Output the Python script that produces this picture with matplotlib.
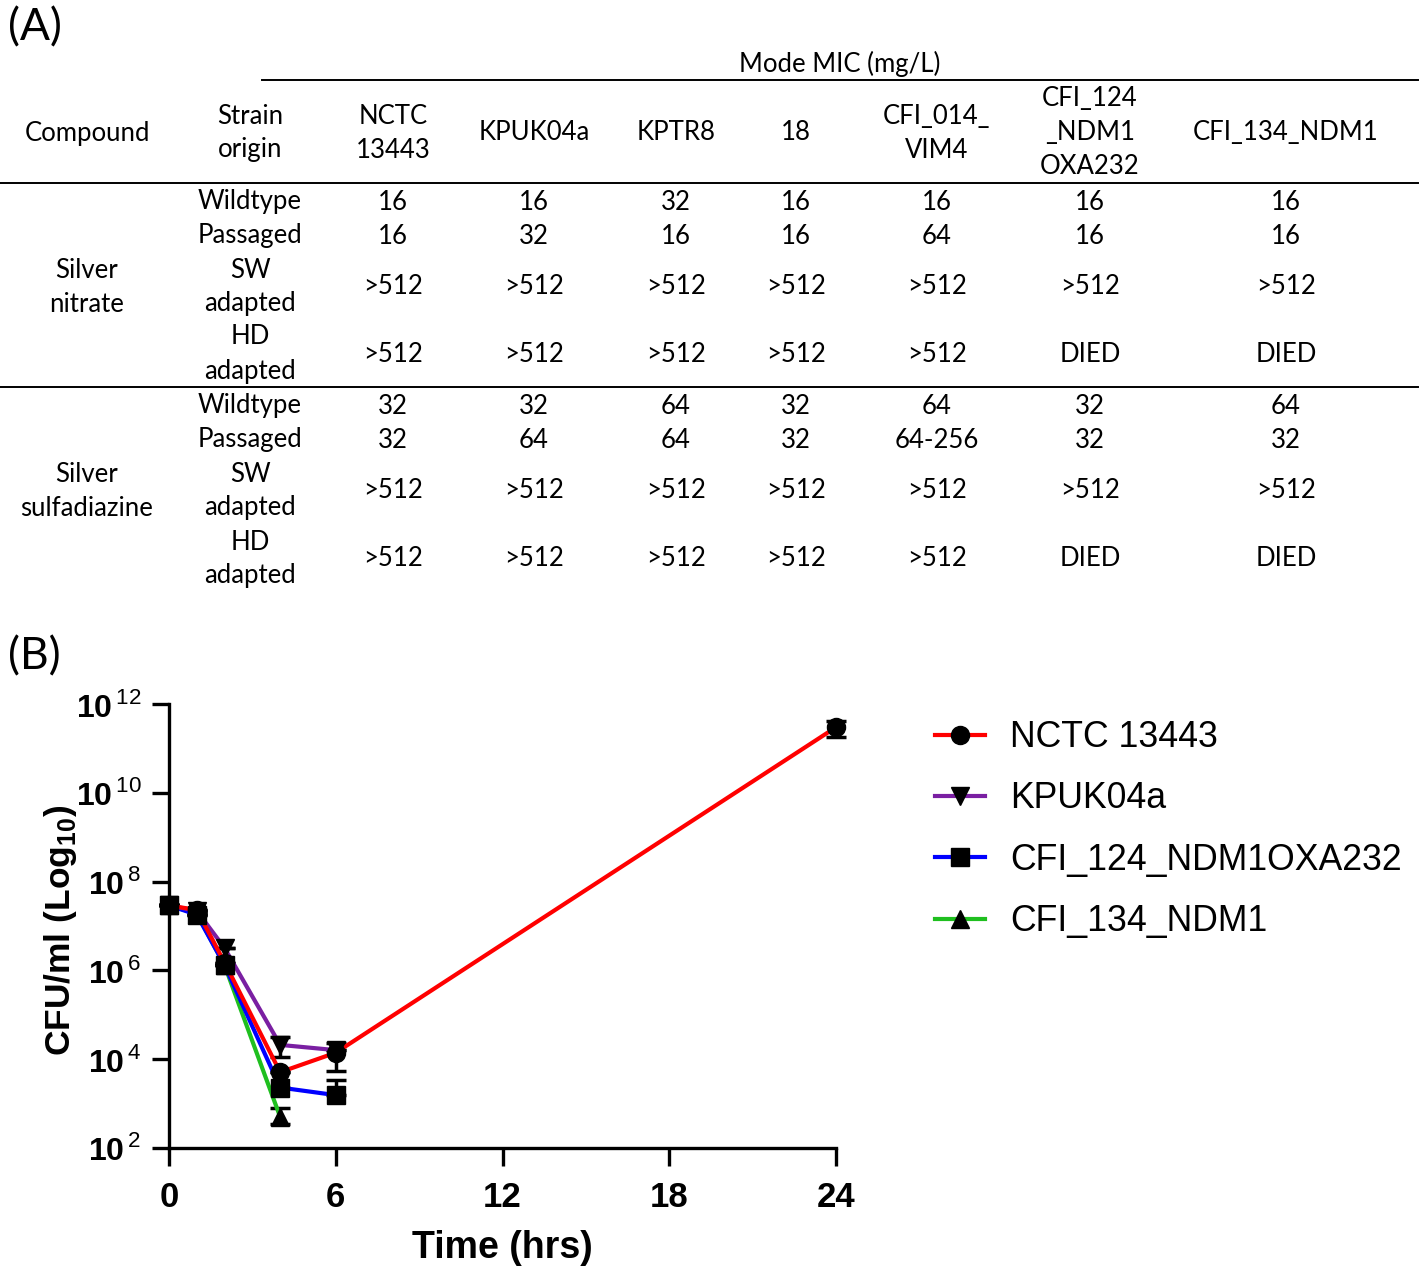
import numpy as np
import matplotlib
matplotlib.use("Agg")
import matplotlib.pyplot as plt
from matplotlib.ticker import NullLocator, FixedLocator, FixedFormatter
from matplotlib.lines import Line2D

W, H = 1424, 1268

# ---------------- table data (A) ----------------
strains = ["NCTC\n13443", "KPUK04a", "KPTR8", "18", "CFI_014_\nVIM4",
           "CFI_124\n_NDM1\nOXA232", "CFI_134_NDM1"]
compounds = ["Silver\nnitrate", "Silver\nsulfadiazine"]
origins = ["Wildtype", "Passaged", "SW\nadapted", "HD\nadapted"]

nitrate = [
    ["16", "16", "32", "16", "16", "16", "16"],
    ["16", "32", "16", "16", "64", "16", "16"],
    [">512"] * 7,
    [">512"] * 5 + ["DIED", "DIED"],
]
sulfadiazine = [
    ["32", "32", "64", "32", "64", "32", "64"],
    ["32", "64", "64", "32", "64-256", "32", "32"],
    [">512"] * 7,
    [">512"] * 5 + ["DIED", "DIED"],
]

# ---------------- time-kill data (B) ----------------
time = [0, 1, 2, 4, 6, 24]
nctc = [2.9e7, 2.3e7, 1.5e6, 5.1e3, 1.4e4, 3.0e11]
nctc_lo = [0, 0, 0, 0, 8.6e3, 1.2e11]
nctc_hi = [0, 0, 0, 0, 8.6e3, 1.2e11]

time_k = [0, 1, 2, 4, 6]
kpuk = [2.9e7, 2.2e7, 3.2e6, 2.1e4, 1.6e4]
kpuk_lo = [0, 0, 0, 1.0e4, 0]
kpuk_hi = [0, 0, 0, 1.0e4, 0]

cfi124 = [2.9e7, 1.8e7, 1.3e6, 2.3e3, 1.55e3]
cfi124_lo = [0, 0, 0, 0, 0]
cfi124_hi = [0, 0, 0, 0, 1.8e3]

time_c = [0, 1, 2, 4]
cfi134 = [2.9e7, 1.9e7, 1.3e6, 5.0e2]
cfi134_lo = [0, 0, 0, 1.5e2]
cfi134_hi = [0, 0, 0, 3.0e2]

labels = ["NCTC 13443", "KPUK04a", "CFI_124_NDM1OXA232", "CFI_134_NDM1"]

plt.rcParams["mathtext.fontset"] = "custom"
plt.rcParams["mathtext.rm"] = "Liberation Sans"
plt.rcParams["mathtext.bf"] = "Liberation Sans:bold"

fig = plt.figure(figsize=(W / 100, H / 100), dpi=100)

# overlay axes in pixel coordinates for the table
ov = fig.add_axes([0, 0, 1, 1])
ov.set_xlim(0, W)
ov.set_ylim(H, 0)
ov.axis("off")

tfont = dict(family="Lato", fontsize=18.5, ha="center", va="center")
step = 34


def cell(x, y, txt):
    lines = txt.split("\n")
    y0 = y - (len(lines) - 1) * step / 2
    for i, ln in enumerate(lines):
        ov.text(x, y0 + i * step, ln, **tfont)


ov.text(8, 28, "(A)", family="Lato", fontsize=32, ha="left", va="center")
ov.text(8, 657, "(B)", family="Lato", fontsize=32, ha="left", va="center")

ov.plot([262, 1418], [80, 80], color="black", lw=1.4)
ov.plot([0, 1418], [183, 183], color="black", lw=1.4)
ov.plot([0, 1418], [387, 387], color="black", lw=1.4)

cell(840, 64, "Mode MIC (mg/L)")
cell(87, 133, "Compound")
cell(250, 133, "Strain\norigin")
col_x = [393, 534, 676, 796, 937, 1090, 1286]
for cx, s in zip(col_x, strains):
    cell(cx, 133, s)

row_y = [[202, 236, 287, 354], [406, 440, 491, 559]]
for block, (comp, vals) in enumerate(zip(compounds, [nitrate, sulfadiazine])):
    ys = row_y[block]
    cell(87, ys[2], comp)
    for r, org in enumerate(origins):
        cell(250, ys[r], org)
        for cx, v in zip(col_x, vals[r]):
            cell(cx, ys[r], v)

# ---------------- chart ----------------
ax = fig.add_axes([169 / W, 1 - 1148 / H, (836 - 169) / W, (1148 - 704) / H])
ax.set_yscale("log")
ax.set_xlim(0, 24)
ax.set_ylim(1e2, 1e12)

series = [
    (time_c, cfi134, cfi134_lo, cfi134_hi, "#1fbf1f", "^"),
    (time_k, cfi124, cfi124_lo, cfi124_hi, "#0000ff", "s"),
    (time_k, kpuk, kpuk_lo, kpuk_hi, "#7a1fa2", "v"),
    (time, nctc, nctc_lo, nctc_hi, "#ff0000", "o"),
]
for t, y, lo, hi, c, m in series:
    ax.errorbar(t, y, yerr=[lo, hi], fmt="none", ecolor="black",
                elinewidth=2.5, capsize=7, capthick=2.5, clip_on=False, zorder=3)
    ax.plot(t, y, color=c, lw=3, zorder=4, clip_on=False)
for t, y, lo, hi, c, m in series:
    ax.plot(t, y, ls="none", marker=m, ms=13, color="black", zorder=5,
            clip_on=False)

for s in ["top", "right"]:
    ax.spines[s].set_visible(False)
for s in ["left", "bottom"]:
    ax.spines[s].set_linewidth(2.4)

ax.yaxis.set_minor_locator(NullLocator())
yt = [1e2, 1e4, 1e6, 1e8, 1e10, 1e12]
ax.yaxis.set_major_locator(FixedLocator(yt))
ax.yaxis.set_major_formatter(FixedFormatter(
    [r"$\mathbf{10}^{\,\mathrm{%d}}$" % p for p in [2, 4, 6, 8, 10, 12]]))
ax.set_xticks([0, 6, 12, 18, 24])
ax.tick_params(axis="y", length=12, width=2.4, pad=8, labelsize=23)
ax.tick_params(axis="x", length=13, width=2.4, pad=11)
for lb in ax.get_xticklabels():
    lb.set_family("Liberation Sans")
    lb.set_fontweight("bold")
    lb.set_fontsize(25)

ax.set_xlabel("Time (hrs)", family="Liberation Sans",
              fontweight="bold", fontsize=27)
ax.xaxis.set_label_coords(0.5, -0.185)
ax.set_ylabel(r"CFU/ml (Log$_{\mathbf{10}}$)", family="Liberation Sans",
              fontweight="bold", fontsize=25.5)
ax.yaxis.set_label_coords(-0.135, 0.49)

handles = [
    Line2D([], [], color="#ff0000", lw=3, marker="o", ms=13, mfc="black", mec="black"),
    Line2D([], [], color="#7a1fa2", lw=3, marker="v", ms=13, mfc="black", mec="black"),
    Line2D([], [], color="#0000ff", lw=3, marker="s", ms=13, mfc="black", mec="black"),
    Line2D([], [], color="#1fbf1f", lw=3, marker="^", ms=13, mfc="black", mec="black"),
]
fig.legend(handles, labels, loc="upper left",
           bbox_to_anchor=(935 / W, 1 - 720 / H), frameon=False,
           prop=dict(family="Liberation Sans", size=25.7),
           handlelength=1.4, handletextpad=0.7, labelspacing=0.74,
           borderaxespad=0, borderpad=0)

fig.savefig("out.png", dpi=100)
